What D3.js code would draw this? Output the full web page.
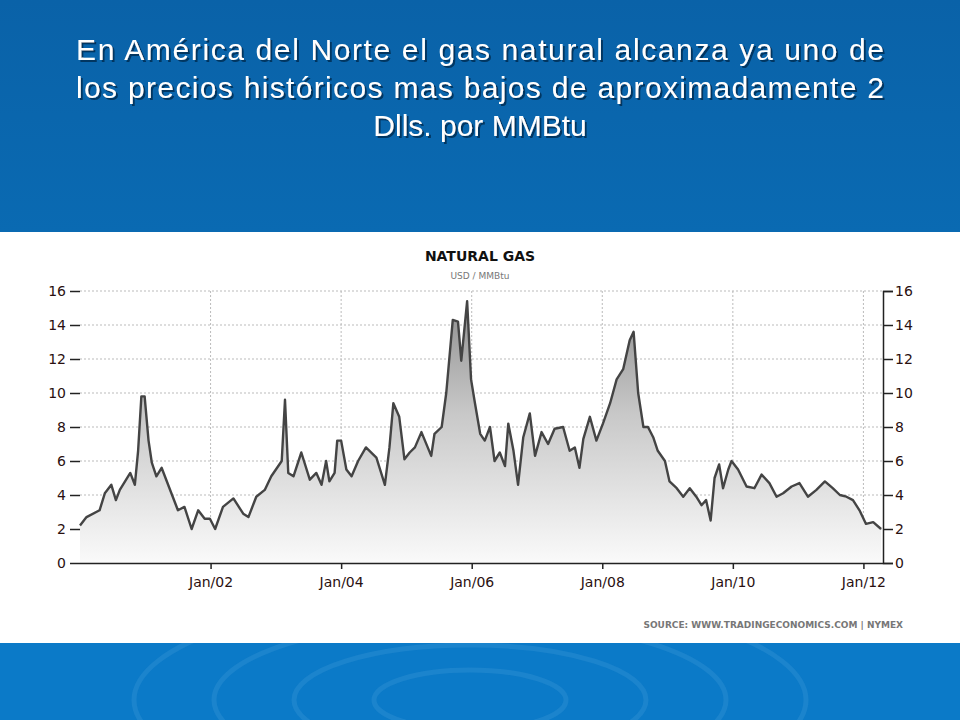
<!DOCTYPE html>
<html>
<head>
<meta charset="utf-8">
<script src="https://cdn.jsdelivr.net/npm/d3@7"></script>
<style>
body { margin: 0; background: #fff; }
svg { display: block; }
</style>
</head>
<body>
<svg id="chart" width="960" height="720"></svg>
<script>
// price readings, fractional year -> USD/MMBtu
const years = [2000.0, 2000.1, 2000.3, 2000.38, 2000.48, 2000.55, 2000.61, 2000.77, 2000.84, 2000.89, 2000.94, 2000.99,
  2001.05, 2001.1, 2001.17, 2001.25, 2001.4, 2001.5, 2001.6, 2001.71, 2001.81, 2001.91, 2001.99,
  2002.07, 2002.19, 2002.35, 2002.5, 2002.58, 2002.7, 2002.83, 2002.93,
  2003.09, 2003.14, 2003.19, 2003.27, 2003.39, 2003.52, 2003.62, 2003.7, 2003.77, 2003.82, 2003.9, 2003.94,
  2004.0, 2004.08, 2004.16, 2004.26, 2004.38, 2004.54, 2004.67, 2004.74, 2004.8, 2004.89, 2004.97,
  2005.05, 2005.13, 2005.23, 2005.38, 2005.43, 2005.54, 2005.61, 2005.71, 2005.79, 2005.84, 2005.93, 2005.99,
  2006.05, 2006.13, 2006.2, 2006.28, 2006.35, 2006.43, 2006.51, 2006.56, 2006.64, 2006.71, 2006.79, 2006.89, 2006.97,
  2007.07, 2007.17, 2007.27, 2007.4, 2007.5, 2007.58, 2007.65, 2007.71, 2007.81, 2007.91,
  2008.01, 2008.12, 2008.22, 2008.32, 2008.42, 2008.48, 2008.55, 2008.63, 2008.7, 2008.78, 2008.85, 2008.96,
  2009.03, 2009.14, 2009.24, 2009.34, 2009.44, 2009.52, 2009.59, 2009.66, 2009.72, 2009.79, 2009.85, 2009.93, 2009.98,
  2010.08, 2010.21, 2010.33, 2010.44, 2010.56, 2010.67, 2010.77, 2010.9,
  2011.02, 2011.15, 2011.28, 2011.41, 2011.53, 2011.64, 2011.74, 2011.84, 2011.94,
  2012.04, 2012.15, 2012.27];
const prices = [2.2, 2.7, 3.1, 4.1, 4.6, 3.7, 4.3, 5.3, 4.6, 6.6, 9.8, 9.8,
  7.2, 5.9, 5.1, 5.6, 4.1, 3.1, 3.3, 2.0, 3.1, 2.6, 2.6,
  2.0, 3.3, 3.8, 2.9, 2.7, 3.9, 4.3, 5.1,
  6.0, 9.6, 5.3, 5.1, 6.5, 4.9, 5.3, 4.6, 6.0, 4.8, 5.3, 7.2,
  7.2, 5.5, 5.1, 6.0, 6.8, 6.2, 4.6, 6.8, 9.4, 8.6, 6.1,
  6.5, 6.8, 7.7, 6.3, 7.6, 8.0, 10.0, 14.3, 14.2, 11.9, 15.4, 10.8,
  9.4, 7.6, 7.2, 8.0, 6.0, 6.5, 5.7, 8.2, 6.6, 4.6, 7.4, 8.8, 6.3,
  7.7, 7.0, 7.9, 8.0, 6.6, 6.8, 5.6, 7.3, 8.6, 7.2,
  8.2, 9.4, 10.8, 11.4, 13.1, 13.6, 10.0, 8.0, 8.0, 7.4, 6.6, 6.0,
  4.8, 4.4, 3.9, 4.4, 3.9, 3.4, 3.7, 2.5, 5.0, 5.8, 4.4, 5.5, 6.0,
  5.5, 4.5, 4.4, 5.2, 4.7, 3.9, 4.1, 4.5,
  4.7, 3.9, 4.3, 4.8, 4.4, 4.0, 3.9, 3.7, 3.1,
  2.3, 2.4, 2.0];
const xTicks = [2002, 2004, 2006, 2008, 2010, 2012];
const xTickLabels = ["Jan/02", "Jan/04", "Jan/06", "Jan/08", "Jan/10", "Jan/12"];
const yTicks = [0, 2, 4, 6, 8, 10, 12, 14, 16];

const titleLines = ["En América del Norte el gas natural alcanza ya uno de",
  "los precios históricos mas bajos de aproximadamente 2",
  "Dlls. por MMBtu"];

const svg = d3.select("#chart");
const defs = svg.append("defs");

// slide background
const bg = defs.append("linearGradient").attr("id", "bg").attr("x1", 0).attr("y1", 0).attr("x2", 0).attr("y2", 1);
bg.append("stop").attr("offset", "0%").attr("stop-color", "#0a62a8");
bg.append("stop").attr("offset", "100%").attr("stop-color", "#0a6ab2");
svg.append("rect").attr("width", 960).attr("height", 232).attr("fill", "url(#bg)");
svg.append("rect").attr("y", 643).attr("width", 960).attr("height", 77).attr("fill", "#0b7ac8");
// faint ripples in footer
[60, 110, 160, 210].forEach(r => {
    svg.append("ellipse").attr("cx", 470).attr("cy", 700).attr("rx", r * 1.6).attr("ry", r * 0.5)
        .attr("fill", "none").attr("stroke", "#2b8ed2").attr("stroke-width", 5).attr("opacity", 0.5);
});
svg.append("rect").attr("y", 232).attr("width", 960).attr("height", 411).attr("fill", "#fff");

// title with drop shadow
const shadow = defs.append("filter").attr("id", "shadow");
shadow.append("feDropShadow").attr("dx", 2).attr("dy", 2).attr("stdDeviation", 0.6)
    .attr("flood-color", "#06335a").attr("flood-opacity", 0.9);
const title = svg.append("g").attr("font-family", "Arial, 'Liberation Sans', sans-serif")
    .attr("font-size", 30).attr("text-anchor", "middle").attr("fill", "#fff").attr("filter", "url(#shadow)");
titleLines.forEach((t, i) => {
    const tx = title.append("text").attr("x", 480).attr("y", 60 + i * 38).text(t);
    if (i < 2) tx.attr("textLength", 808).attr("lengthAdjust", "spacing");
});

// chart
const plotLeft = 80, plotRight = 883, plotTop = 291, plotBottom = 563;
const data = years.map((y, i) => ({ year: y, value: prices[i] }));
const xscale = d3.scaleLinear().domain([2000.0, 2012.3]).range([plotLeft, plotRight]);
const yscale = d3.scaleLinear().domain([0, 16]).range([plotBottom, plotTop]);

svg.append("text").attr("x", 480).attr("y", 261).attr("text-anchor", "middle")
    .attr("font-family", "'DejaVu Sans', sans-serif").attr("font-weight", "bold").attr("font-size", 14)
    .attr("fill", "#111").text("NATURAL GAS");
svg.append("text").attr("x", 480).attr("y", 279).attr("text-anchor", "middle")
    .attr("font-family", "'DejaVu Sans', sans-serif").attr("font-size", 9)
    .attr("fill", "#777").text("USD / MMBtu");

// grid
const grid = svg.append("g").attr("stroke", "#bbb").attr("stroke-dasharray", "2,2");
grid.selectAll(".h").data(yTicks.slice(1)).join("line").attr("class", "h")
    .attr("x1", plotLeft).attr("x2", plotRight).attr("y1", d => yscale(d)).attr("y2", d => yscale(d));
grid.selectAll(".v").data(xTicks).join("line").attr("class", "v")
    .attr("x1", d => xscale(d)).attr("x2", d => xscale(d)).attr("y1", plotTop).attr("y2", plotBottom);

const fillGrad = defs.append("linearGradient").attr("id", "fillg")
    .attr("gradientUnits", "userSpaceOnUse").attr("x1", 0).attr("x2", 0).attr("y1", plotTop).attr("y2", plotBottom);
fillGrad.append("stop").attr("offset", "0%").attr("stop-color", "#8a8a8a");
fillGrad.append("stop").attr("offset", "45%").attr("stop-color", "#c8c8c8");
fillGrad.append("stop").attr("offset", "100%").attr("stop-color", "#fafafa");

const area = d3.area().x(d => xscale(d.year)).y0(plotBottom).y1(d => yscale(d.value));
const line = d3.line().x(d => xscale(d.year)).y(d => yscale(d.value));
svg.append("path").datum(data).attr("d", area).attr("fill", "url(#fillg)");
svg.append("path").datum(data).attr("d", line).attr("fill", "none")
    .attr("stroke", "#444").attr("stroke-width", 2.4).attr("stroke-linejoin", "round");

// axes
const axisFont = "Tahoma, 'DejaVu Sans', sans-serif";
const yLeft = d3.axisLeft(yscale).tickValues(yTicks).tickSize(10).tickPadding(4);
const yRight = d3.axisRight(yscale).tickValues(yTicks).tickSize(10).tickPadding(2);
const xAxis = d3.axisBottom(xscale).tickValues(xTicks).tickFormat((d, i) => xTickLabels[i]).tickSize(6).tickPadding(8);

const gl = svg.append("g").attr("transform", `translate(${plotLeft},0)`).call(yLeft);
const gr = svg.append("g").attr("transform", `translate(${plotRight},0)`).call(yRight);
const gx = svg.append("g").attr("transform", `translate(0,${plotBottom})`).call(xAxis);
gl.select(".domain").remove();
[gl, gr, gx].forEach(g => {
    g.selectAll("text").attr("font-family", axisFont).attr("font-size", 14).attr("fill", "#2a1010");
    g.selectAll("line").attr("stroke", "#222").attr("stroke-width", 1.5);
    g.select(".domain").attr("stroke", "#222").attr("stroke-width", 1.5);
});
gx.select(".domain").attr("d", `M${plotLeft},0.5H${plotRight}`);

svg.append("text").attr("x", 903).attr("y", 628).attr("text-anchor", "end")
    .attr("font-family", "'DejaVu Sans', sans-serif").attr("font-size", 9).attr("font-weight", "bold")
    .attr("fill", "#777").text("SOURCE: WWW.TRADINGECONOMICS.COM  |  NYMEX");
</script>
</body>
</html>
